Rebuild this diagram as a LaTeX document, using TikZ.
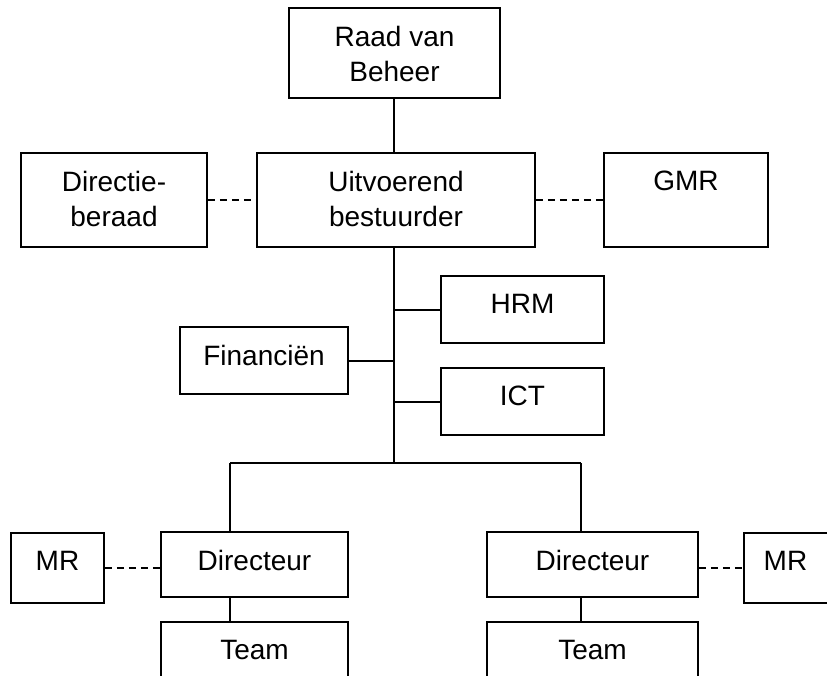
\documentclass[tikz,border=0pt]{standalone}
\usepackage{fontspec}
\setmainfont{Liberation Sans}
\usetikzlibrary{positioning}

\begin{document}
\begin{tikzpicture}[x=1pt, y=-1pt,
	unit/.style={draw=black, line width=1.6pt, inner sep=0pt},
	boxtext/.style={inner sep=0pt, align=center, font=\fontsize{28}{34.5}\selectfont},
	link/.style={line width=2pt},
	advice/.style={line width=1.6pt, dash pattern=on 7pt off 5pt}]
	\useasboundingbox (0,0) rectangle (827,675);
	\clip (0,0) rectangle (827,675);
	% boxes
	\node[unit, minimum width=211pt, minimum height=90pt] (rvb) at (394.5,53){};
	\node[unit, minimum width=278pt, minimum height=94pt] (ub) at (396,200){};
	\node[unit, minimum width=186pt, minimum height=94pt] (drb) at (114,200){};
	\node[unit, minimum width=164pt, minimum height=94pt] (gmr) at (686,200){};
	\node[unit, minimum width=163pt, minimum height=67pt] (hrm) at (522.5,309.5){};
	\node[unit, minimum width=163pt, minimum height=67pt] (ict) at (522.5,401.5){};
	\node[unit, minimum width=168pt, minimum height=67pt] (fin) at (264,360.5){};
	\node[unit, minimum width=187pt, minimum height=65pt] (dirl) at (254.5,564.5){};
	\node[unit, minimum width=211pt, minimum height=65pt] (dirr) at (592.5,564.5){};
	\node[unit, minimum width=93pt, minimum height=70pt] (mrl) at (57.5,568){};
	\node[unit, minimum width=93pt, minimum height=70pt] (mrr) at (790.5,568){};
	\node[unit, minimum width=187pt, minimum height=60pt] (teaml) at (254.5,652){};
	\node[unit, minimum width=211pt, minimum height=60pt] (teamr) at (592.5,652){};
	% texts
	\node[boxtext, below=19pt of rvb.north] (rvbtext) {Raad van\\Beheer};
	\node[boxtext, below=19pt of ub.north] (ubtext) {Uitvoerend\\bestuurder};
	\node[boxtext, below=19pt of drb.north] (drbtext) {Directie-\\beraad};
	\node[boxtext, below=19pt of gmr.north] (gmrtext) {GMR};
	\node[boxtext, below=19pt of hrm.north] (hrmtext) {HRM};
	\node[boxtext, below=19pt of ict.north] (icttext) {ICT};
	\node[boxtext, below=19pt of fin.north] (fintext) {Financiën};
	\node[boxtext, below=19pt of dirl.north] (dirltext) {Directeur};
	\node[boxtext, below=19pt of dirr.north] (dirrtext) {Directeur};
	\node[boxtext, below=19pt of mrl.north] (mrltext) {MR};
	\node[boxtext, below=19pt of mrr.north, xshift=-5pt] (mrrtext) {MR};
	\node[boxtext, below=19pt of teaml.north] (teamltext) {Team};
	\node[boxtext, below=19pt of teamr.north] (teamrtext) {Team};
	% lines
	\coordinate (bus) at (394,463);
	\coordinate (busl) at (230,463);
	\coordinate (busr) at (581,463);
	\draw[link] (rvb.south -| bus) -- (ub.north -| bus);
	\draw[link] (ub.south -| bus) -- (bus);
	\draw[link] (hrm.west) -- (hrm.west -| bus);
	\draw[link] (ict.west) -- (ict.west -| bus);
	\draw[link] (fin.east) -- (fin.east -| bus);
	\draw[link] (busl) -- (busr);
	\draw[link] (busl) -- (busl |- dirl.north);
	\draw[link] (busr) -- (busr |- dirr.north);
	\draw[link] (busl |- dirl.south) -- (busl |- teaml.north);
	\draw[link] (busr |- dirr.south) -- (busr |- teamr.north);
	\draw[advice] (drb.east) -- (ub.west);
	\draw[advice] (ub.east) -- (gmr.west);
	\draw[advice] (mrl.east) -- (mrl.east -| dirl.west);
	\draw[advice] (mrr.west -| dirr.east) -- (mrr.west);
\end{tikzpicture}
\end{document}
